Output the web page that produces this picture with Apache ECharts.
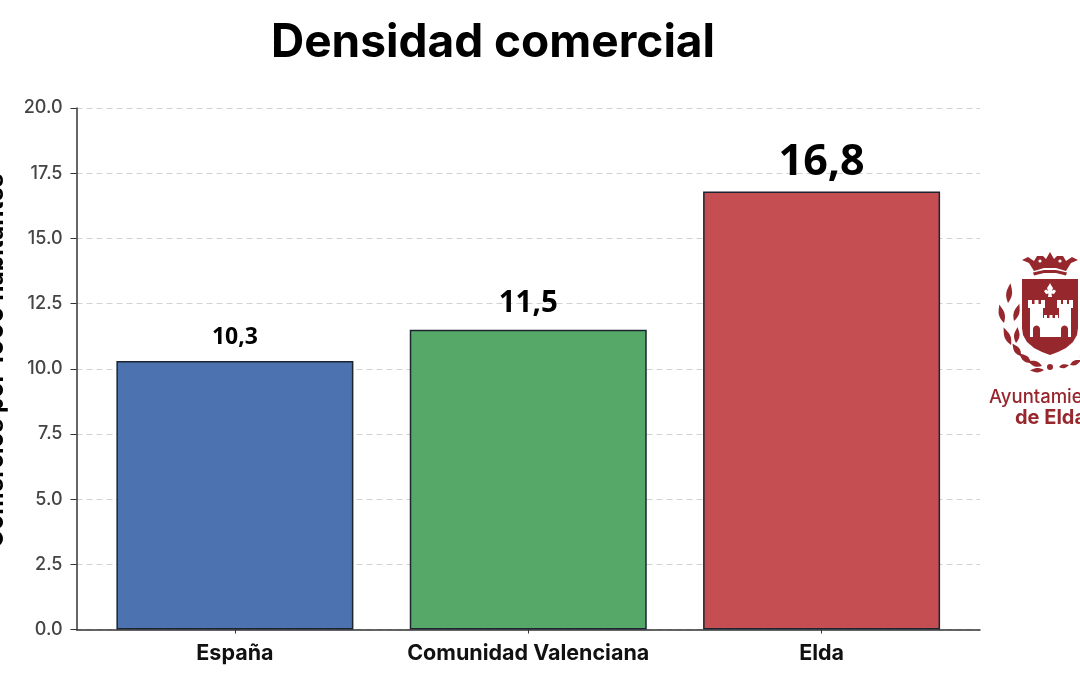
<!DOCTYPE html>
<html><head><meta charset="utf-8">
<style>html,body{margin:0;padding:0;background:#fff;overflow:hidden}#c{width:1080px;height:675px}</style>
<script src="https://cdn.jsdelivr.net/npm/echarts@6/dist/echarts.min.js"></script></head>
<body><div id="c"></div>
<script>
const categories = ['España', 'Comunidad Valenciana', 'Elda'];
const values = [10.3, 11.5, 16.8];
const barColors = ['#4C72B0', '#55A868', '#C44E52'];
const valueLabelSizes = [23, 29.5, 43];
const valueLabelGaps = [12, 11, 7];
const titleText = 'Densidad comercial';
const yAxisTitle = 'Comercios por 1000 habitantes';
const maroon = '#96272d';
const W = '#fff';
const UI = 'Inter, "Noto Sans", sans-serif';

const chart = echarts.init(document.getElementById('c'), null, {renderer: 'canvas'});
const positions = categories.map((_, i) => i);

const poly = (points, fill) => ({type: 'polygon', shape: {points}, style: {fill}});
const rect = (x, y, w, h, fill) => ({type: 'rect', shape: {x, y, width: w, height: h}, style: {fill}});
// laurel leaf from base (x,y) pointing at angle a (radians, 0 = up)
const leaf = (x, y, a, len, wid) => {
  const pts = [];
  const N = 8;
  for (let i = 0; i <= N; i++) { const t = i / N; pts.push([wid * Math.sin(Math.PI * t) * (1 - 0.3 * t), -len * t]); }
  for (let i = N - 1; i > 0; i--) { const t = i / N; pts.push([-wid * Math.sin(Math.PI * t) * (1 - 0.3 * t), -len * t]); }
  return {type: 'polygon', x, y, rotation: -a, shape: {points: pts}, style: {fill: maroon}};
};
const door = (x0, x1, yBase, fill) => {
  const pts = [[x0, yBase]], r = (x1 - x0) / 2, cx = x0 + r, cy = yBase - 8;
  for (let i = 0; i <= 10; i++) { const a = Math.PI - Math.PI * i / 10; pts.push([cx + r * Math.cos(a), cy - r * Math.sin(a)]); }
  pts.push([x1, yBase]);
  return poly(pts, fill);
};

const logo = [
  // crown
  poly([[1034,271],[1029,263],[1022,260],[1028,257],[1034,261],[1037,256],[1043,256],[1046,259],[1050,252],[1054,259],[1057,256],[1063,256],[1066,261],[1072,257],[1078,260],[1071,263],[1066,271],[1056,268],[1044,268]], maroon),
  {type: 'circle', shape: {cx: 1040, cy: 261, r: 1.6}, style: {fill: W}},
  {type: 'circle', shape: {cx: 1060, cy: 261, r: 1.6}, style: {fill: W}},
  poly([[1033,272.5],[1044,270],[1056,270],[1067,272.5],[1066,275.5],[1056,273],[1044,273],[1034,275.5]], maroon),
  // shield
  poly([[1022,279],[1078,279],[1078,328],[1077,335],[1073,342],[1066,348],[1058,352],[1050,355],[1042,352],[1034,348],[1027,342],[1023,335],[1022,328]], maroon),
  // fleur
  poly([[1049,285],[1050,283],[1051,285],[1053,288],[1052,291],[1054,289.5],[1056,291],[1054,294],[1051.5,293.5],[1052,297],[1048,297],[1048.5,293.5],[1046,294],[1044,291],[1046,289.5],[1048,291],[1047,288]], W),
  // towers
  rect(1030, 307, 13, 30, W), rect(1059, 307, 12, 30, W),
  rect(1028, 304, 17, 4, W), rect(1057, 304, 16, 4, W),
  rect(1028, 300, 4, 4, W), rect(1034.5, 300, 4, 4, W), rect(1041, 300, 4, 4, W),
  rect(1057, 300, 4, 4, W), rect(1063, 300, 4, 4, W), rect(1069, 300, 4, 4, W),
  rect(1043, 318, 16, 19, W),
  rect(1044, 315, 3, 4, W), rect(1049.5, 315, 3, 4, W), rect(1055, 315, 3, 4, W),
  door(1033, 1040, 337, maroon), door(1061, 1068, 337, maroon),
  // laurel
  leaf(1008, 303, 0.12, 20, 3.4), leaf(1004, 323, -0.25, 19, 3.4), leaf(1014, 321, 0.3, 18, 3.2),
  leaf(1011, 345, -0.4, 19, 3.4), leaf(1016, 343, 0.1, 16, 3.2), leaf(1021, 356, -0.6, 15, 3.4),
  leaf(1031, 363, -0.9, 15, 3.4), leaf(1042, 366, -1.25, 15, 3.2), leaf(1044, 370, -1.6, 14, 2.6),
  leaf(1059, 367, 1.4, 10, 2.4), leaf(1070, 365, 1.15, 12, 2.8), leaf(1080, 358, 0.8, 9, 3.4),
  {type: 'circle', shape: {cx: 1050, cy: 367, r: 3}, style: {fill: maroon}},
  // lettering
  {type: 'text', x: 989, y: 388, style: {text: 'Ayuntamiento', font: '500 18.5px Inter, sans-serif', fill: maroon}},
  {type: 'text', x: 1015, y: 408, style: {text: 'de Elda', font: '700 20px Inter, sans-serif', fill: maroon}}
];

chart.setOption({
  animation: false,
  backgroundColor: '#fff',
  title: {text: titleText, left: 488, top: 15, textAlign: 'center',
    textStyle: {fontFamily: UI, fontWeight: 700, fontSize: 46, color: '#000'}},
  grid: {left: 76.5, right: 100, top: 108, bottom: 45.5, outerBoundsMode: 'none'},
  xAxis: {
    type: 'value', min: -0.54, max: 2.54, splitLine: {show: false},
    axisLine: {onZero: false, lineStyle: {color: '#333', width: 1.5}},
    axisTick: {customValues: positions, length: 4, lineStyle: {color: '#333', width: 1}},
    axisLabel: {customValues: positions, margin: 13, hideOverlap: false,
      formatter: v => categories[Math.round(v)],
      fontFamily: UI, fontWeight: 700, fontSize: 21.5, color: '#111'}
  },
  yAxis: {
    type: 'value', min: 0, max: 20, interval: 2.5,
    name: yAxisTitle, nameLocation: 'middle', nameGap: 68, nameRotate: 90,
    nameTextStyle: {fontFamily: UI, fontWeight: 700, fontSize: 24.5, color: '#000', padding: [0, 0, 0, 16]},
    axisLine: {show: true, onZero: false, lineStyle: {color: '#333', width: 1.5}},
    axisTick: {show: true, length: 6, lineStyle: {color: '#333', width: 1}},
    axisLabel: {formatter: v => v.toFixed(1), margin: 14, fontFamily: UI, fontWeight: 500, fontSize: 18, color: '#444'},
    splitLine: {show: true, lineStyle: {color: '#d2d2d2', type: [6, 4], width: 1.2}}
  },
  series: [{
    type: 'bar', barWidth: 237,
    data: values.map((v, i) => ({
      value: [positions[i], v],
      itemStyle: {color: barColors[i], borderColor: '#1c2430', borderWidth: 1.5},
      label: {fontSize: valueLabelSizes[i], distance: valueLabelGaps[i]}
    })),
    label: {show: true, position: 'top', color: '#000', fontWeight: 700,
      fontFamily: '"Open Sans", sans-serif', formatter: p => String(p.value[1]).replace('.', ',')}
  }],
  graphic: logo
});
</script></body></html>
